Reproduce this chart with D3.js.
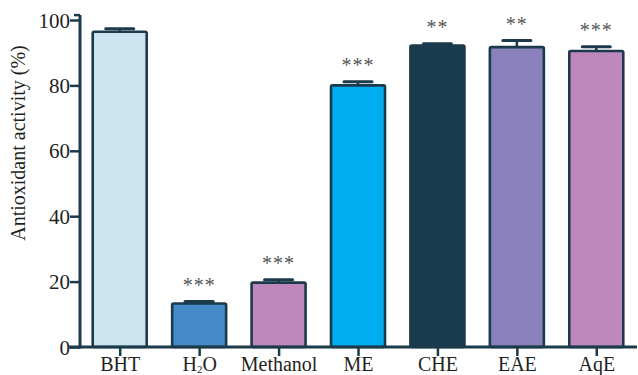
<!DOCTYPE html>
<html>
<head>
<meta charset="utf-8">
<script src="https://cdn.jsdelivr.net/npm/d3@7"></script>
<style>
  body { margin: 0; background: #fff; }
  svg text { font-family: "Liberation Serif", "DejaVu Serif", serif !important; }
</style>
</head>
<body>
<svg id="chart" width="638" height="375"></svg>
<script>
// data
const categories = ["BHT", "H2O", "Methanol", "ME", "CHE", "EAE", "AqE"];
const values = [96.4, 13.3, 19.7, 80.0, 92.2, 91.7, 90.5];
const errors = [0.9, 0.6, 0.9, 1.1, 0.5, 2.0, 1.3];
const stars = ["", "***", "***", "***", "**", "**", "***"];
const fills = ["#cce3f0", "#4589c8", "#bf88bc", "#00aeef", "#1a3a4d", "#8a80bc", "#bf88bc"];
const yTicks = [0, 20, 40, 60, 80, 100];

const dark = "#1b3a4b";
const svg = d3.select("#chart");

const x = d3.scalePoint().domain(categories).range([80, 636]).padding(0.5);
const y = d3.scaleLinear().domain([0, 100]).range([347, 20]);
const barW = 54;
const capW = 28;

const rows = categories.map((c, i) => ({ c, v: values[i], e: errors[i], s: stars[i], f: fills[i] }));

// bars
svg.selectAll("rect.bar").data(rows).enter().append("rect")
  .attr("class", "bar")
  .attr("x", d => x(d.c) - barW / 2)
  .attr("y", d => y(d.v))
  .attr("width", barW)
  .attr("height", d => y(0) - y(d.v))
  .attr("rx", 1.5)
  .style("fill", d => d.f)
  .style("stroke", dark)
  .style("stroke-width", 2.6);

// error bars
const err = svg.selectAll("g.err").data(rows).enter().append("g").attr("class", "err");
err.append("line")
  .attr("x1", d => x(d.c)).attr("x2", d => x(d.c))
  .attr("y1", d => y(d.v)).attr("y2", d => y(d.v + d.e))
  .style("stroke", dark).style("stroke-width", 2.5);
err.append("line")
  .attr("x1", d => x(d.c) - capW / 2).attr("x2", d => x(d.c) + capW / 2)
  .attr("y1", d => y(d.v + d.e)).attr("y2", d => y(d.v + d.e))
  .style("stroke", dark).style("stroke-width", 3)
  .style("stroke-linecap", "round");

// significance stars
svg.selectAll("text.star").data(rows).enter().append("text")
  .attr("class", "star")
  .attr("x", d => x(d.c))
  .attr("y", d => y(d.v + d.e) - 10)
  .attr("text-anchor", "middle")
  .style("font-size", "20px")
  .style("fill", "#555")
  .style("letter-spacing", "1px")
  .text(d => d.s);

// y axis
const yAxis = svg.append("g").attr("transform", "translate(80,0)")
  .call(d3.axisLeft(y).tickValues(yTicks).tickSize(10).tickSizeOuter(0).tickPadding(0));
yAxis.attr("font-family", null);
yAxis.select(".domain").remove();
yAxis.selectAll(".tick line").style("stroke", dark).style("stroke-width", 2.5);
yAxis.selectAll(".tick text").style("font-size", "21px").style("fill", "#231f20").attr("dy", "0.34em");
svg.append("line")
  .attr("x1", 80).attr("x2", 80)
  .attr("y1", y(0) + 1.5).attr("y2", y(101.5))
  .style("stroke", dark).style("stroke-width", 3);
svg.append("line")
  .attr("x1", 80).attr("x2", 74)
  .attr("y1", y(101.5)).attr("y2", y(101.5))
  .style("stroke", dark).style("stroke-width", 2.5);

// x axis
const xAxis = svg.append("g").attr("transform", `translate(0,${y(0)})`)
  .call(d3.axisBottom(x).tickSize(9).tickSizeOuter(0).tickPadding(1));
xAxis.attr("font-family", null);
xAxis.select(".domain").remove();
xAxis.selectAll(".tick line").style("stroke", dark).style("stroke-width", 2.5);
xAxis.selectAll(".tick text").style("font-size", "20px").style("fill", "#231f20").attr("dy", "0.68em")
  .each(function (d) {
    if (d === "H2O") {
      const t = d3.select(this).text("");
      t.append("tspan").text("H");
      t.append("tspan").text("2").style("font-size", "11px").attr("dy", "2");
      t.append("tspan").text("O").attr("dy", "-2");
    }
  });
svg.append("line")
  .attr("x1", 68).attr("x2", 637)
  .attr("y1", y(0)).attr("y2", y(0))
  .style("stroke", dark).style("stroke-width", 3);

// y label
svg.append("text")
  .attr("transform", `translate(25,143) rotate(-90)`)
  .attr("text-anchor", "middle")
  .style("font-size", "20px")
  .style("fill", "#231f20")
  .text("Antioxidant activity (%)");
</script>
</body>
</html>
